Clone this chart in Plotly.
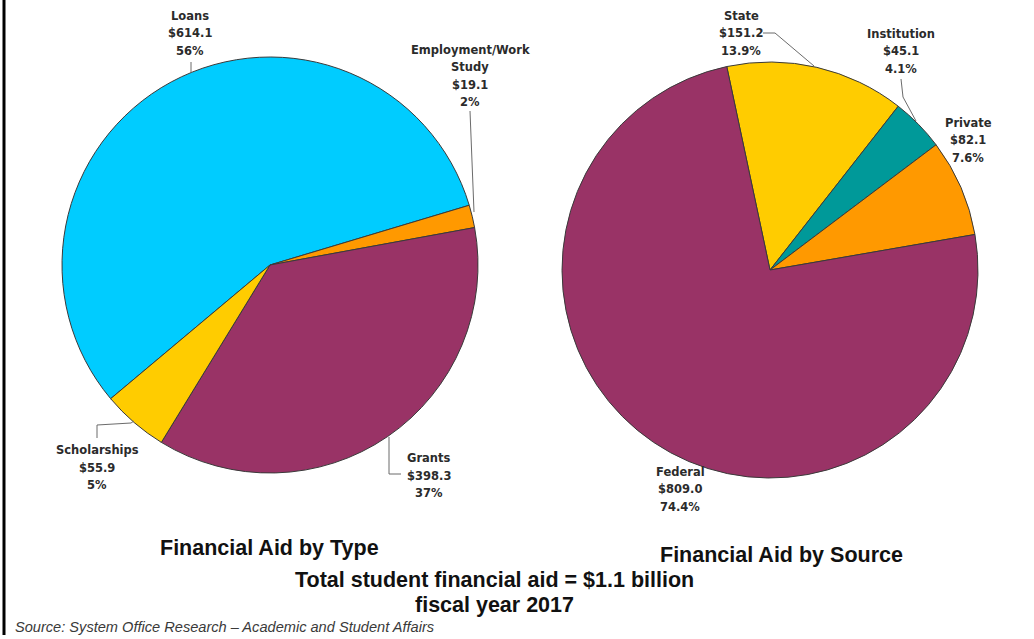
import plotly.graph_objects as go

# ---- data (millions of dollars, fiscal year 2017) ----
type_labels = ["Loans", "Employment/Work\nStudy", "Grants", "Scholarships"]
type_values = [614.1, 19.1, 398.3, 55.9]
type_colors = ["#00CCFF", "#FF9900", "#993366", "#FFCC00"]

source_labels = ["State", "Institution", "Private", "Federal"]
source_values = [151.2, 45.1, 82.1, 809.0]
source_colors = ["#FFCC00", "#009999", "#FF9900", "#993366"]

W, H = 1034, 639


def px(x):
    return x / W


def py(y):
    return 1 - y / H


# ---- pie geometry (pixels) ----
R = 208
left_c = (270, 265)
right_c = (770, 270)


def domain(c):
    return dict(x=[px(c[0] - R), px(c[0] + R)], y=[py(c[1] + R), py(c[1] - R)])


fig = go.Figure()
fig.add_trace(go.Pie(
    labels=[l.replace("\n", " ") for l in type_labels], values=type_values,
    sort=False, direction="clockwise", rotation=230,
    marker=dict(colors=type_colors, line=dict(color="#3a3a3a", width=1)),
    textinfo="none", hoverinfo="label+value+percent",
    domain=domain(left_c), showlegend=False,
))
fig.add_trace(go.Pie(
    labels=source_labels, values=source_values,
    sort=False, direction="clockwise", rotation=-12,
    marker=dict(colors=source_colors, line=dict(color="#3a3a3a", width=1)),
    textinfo="none", hoverinfo="label+value+percent",
    domain=domain(right_c), showlegend=False,
))

# ---- slice labels: name / amount / share, one annotation per line ----
LABEL_FONT = dict(family="DejaVu Sans", size=11.5, color="#2b2b2b", weight="bold")
STEP = 17.5

# (center x, first-line y) for each label block
type_label_pos = [(190, 16), (470, 50), (429, 458), (97, 450)]
source_label_pos = [(741, 16), (901, 34), (968, 123), (680, 472)]

annotations = []


def add_block(labels, values, pos, pct_fmt):
    total = sum(values)
    for name, v, (x, y) in zip(labels, values, pos):
        lines = name.split("\n") + [f"${v:.1f}", pct_fmt.format(100 * v / total)]
        for i, t in enumerate(lines):
            annotations.append(dict(
                x=px(x), y=py(y + i * STEP), xref="paper", yref="paper",
                text=t, showarrow=False, xanchor="center", yanchor="middle",
                font=LABEL_FONT,
            ))


add_block(type_labels, type_values, type_label_pos, "{:.0f}%")
add_block(source_labels, source_values, source_label_pos, "{:.1f}%")

# ---- leader lines (pixel waypoints) ----
leaders = [
    [(191, 62), (191, 73)],                     # Loans
    [(470, 111), (474, 212)],                   # Employment/Work Study
    [(97, 438), (97, 425), (131, 423), (134, 421)],  # Scholarships
    [(389, 437), (389, 474), (401, 474)],       # Grants
    [(763, 33), (775, 33), (814, 66)],          # State
    [(901, 79), (903, 97), (916, 121)],         # Institution
]
shapes = []
for pts in leaders:
    path = "M " + " L ".join(f"{px(x)},{py(y)}" for x, y in pts)
    shapes.append(dict(type="path", path=path, xref="paper", yref="paper",
                       line=dict(color="#6b6b6b", width=1)))

# left frame edge
shapes.append(dict(type="line", xref="paper", yref="paper",
                   x0=px(4), x1=px(4), y0=py(0), y1=py(635),
                   line=dict(color="#000000", width=3)))

# ---- titles and footnote ----
TITLE_FONT = dict(family="Liberation Sans", size=21.5, color="#111111", weight="bold")
titles = [
    ("Financial Aid by Type", 269, 548),
    ("Financial Aid by Source", 781, 555),
    ("Total student financial aid = $1.1 billion", 494, 580),
    ("fiscal year 2017", 494, 605),
]
for t, x, y in titles:
    annotations.append(dict(x=px(x), y=py(y), xref="paper", yref="paper", text=t,
                            showarrow=False, xanchor="center", yanchor="middle",
                            font=TITLE_FONT))

annotations.append(dict(
    x=px(13), y=py(627), xref="paper", yref="paper",
    text="Source: System Office Research \u2013 Academic and Student Affairs",
    showarrow=False, xanchor="left", yanchor="middle",
    font=dict(family="Liberation Sans", size=14.6, color="#3a3a3a", style="italic"),
))

fig.update_layout(
    width=W, height=H, autosize=False,
    margin=dict(l=0, r=0, t=0, b=0),
    paper_bgcolor="white", plot_bgcolor="white",
    annotations=annotations, shapes=shapes,
)

fig.write_html("out.html")
